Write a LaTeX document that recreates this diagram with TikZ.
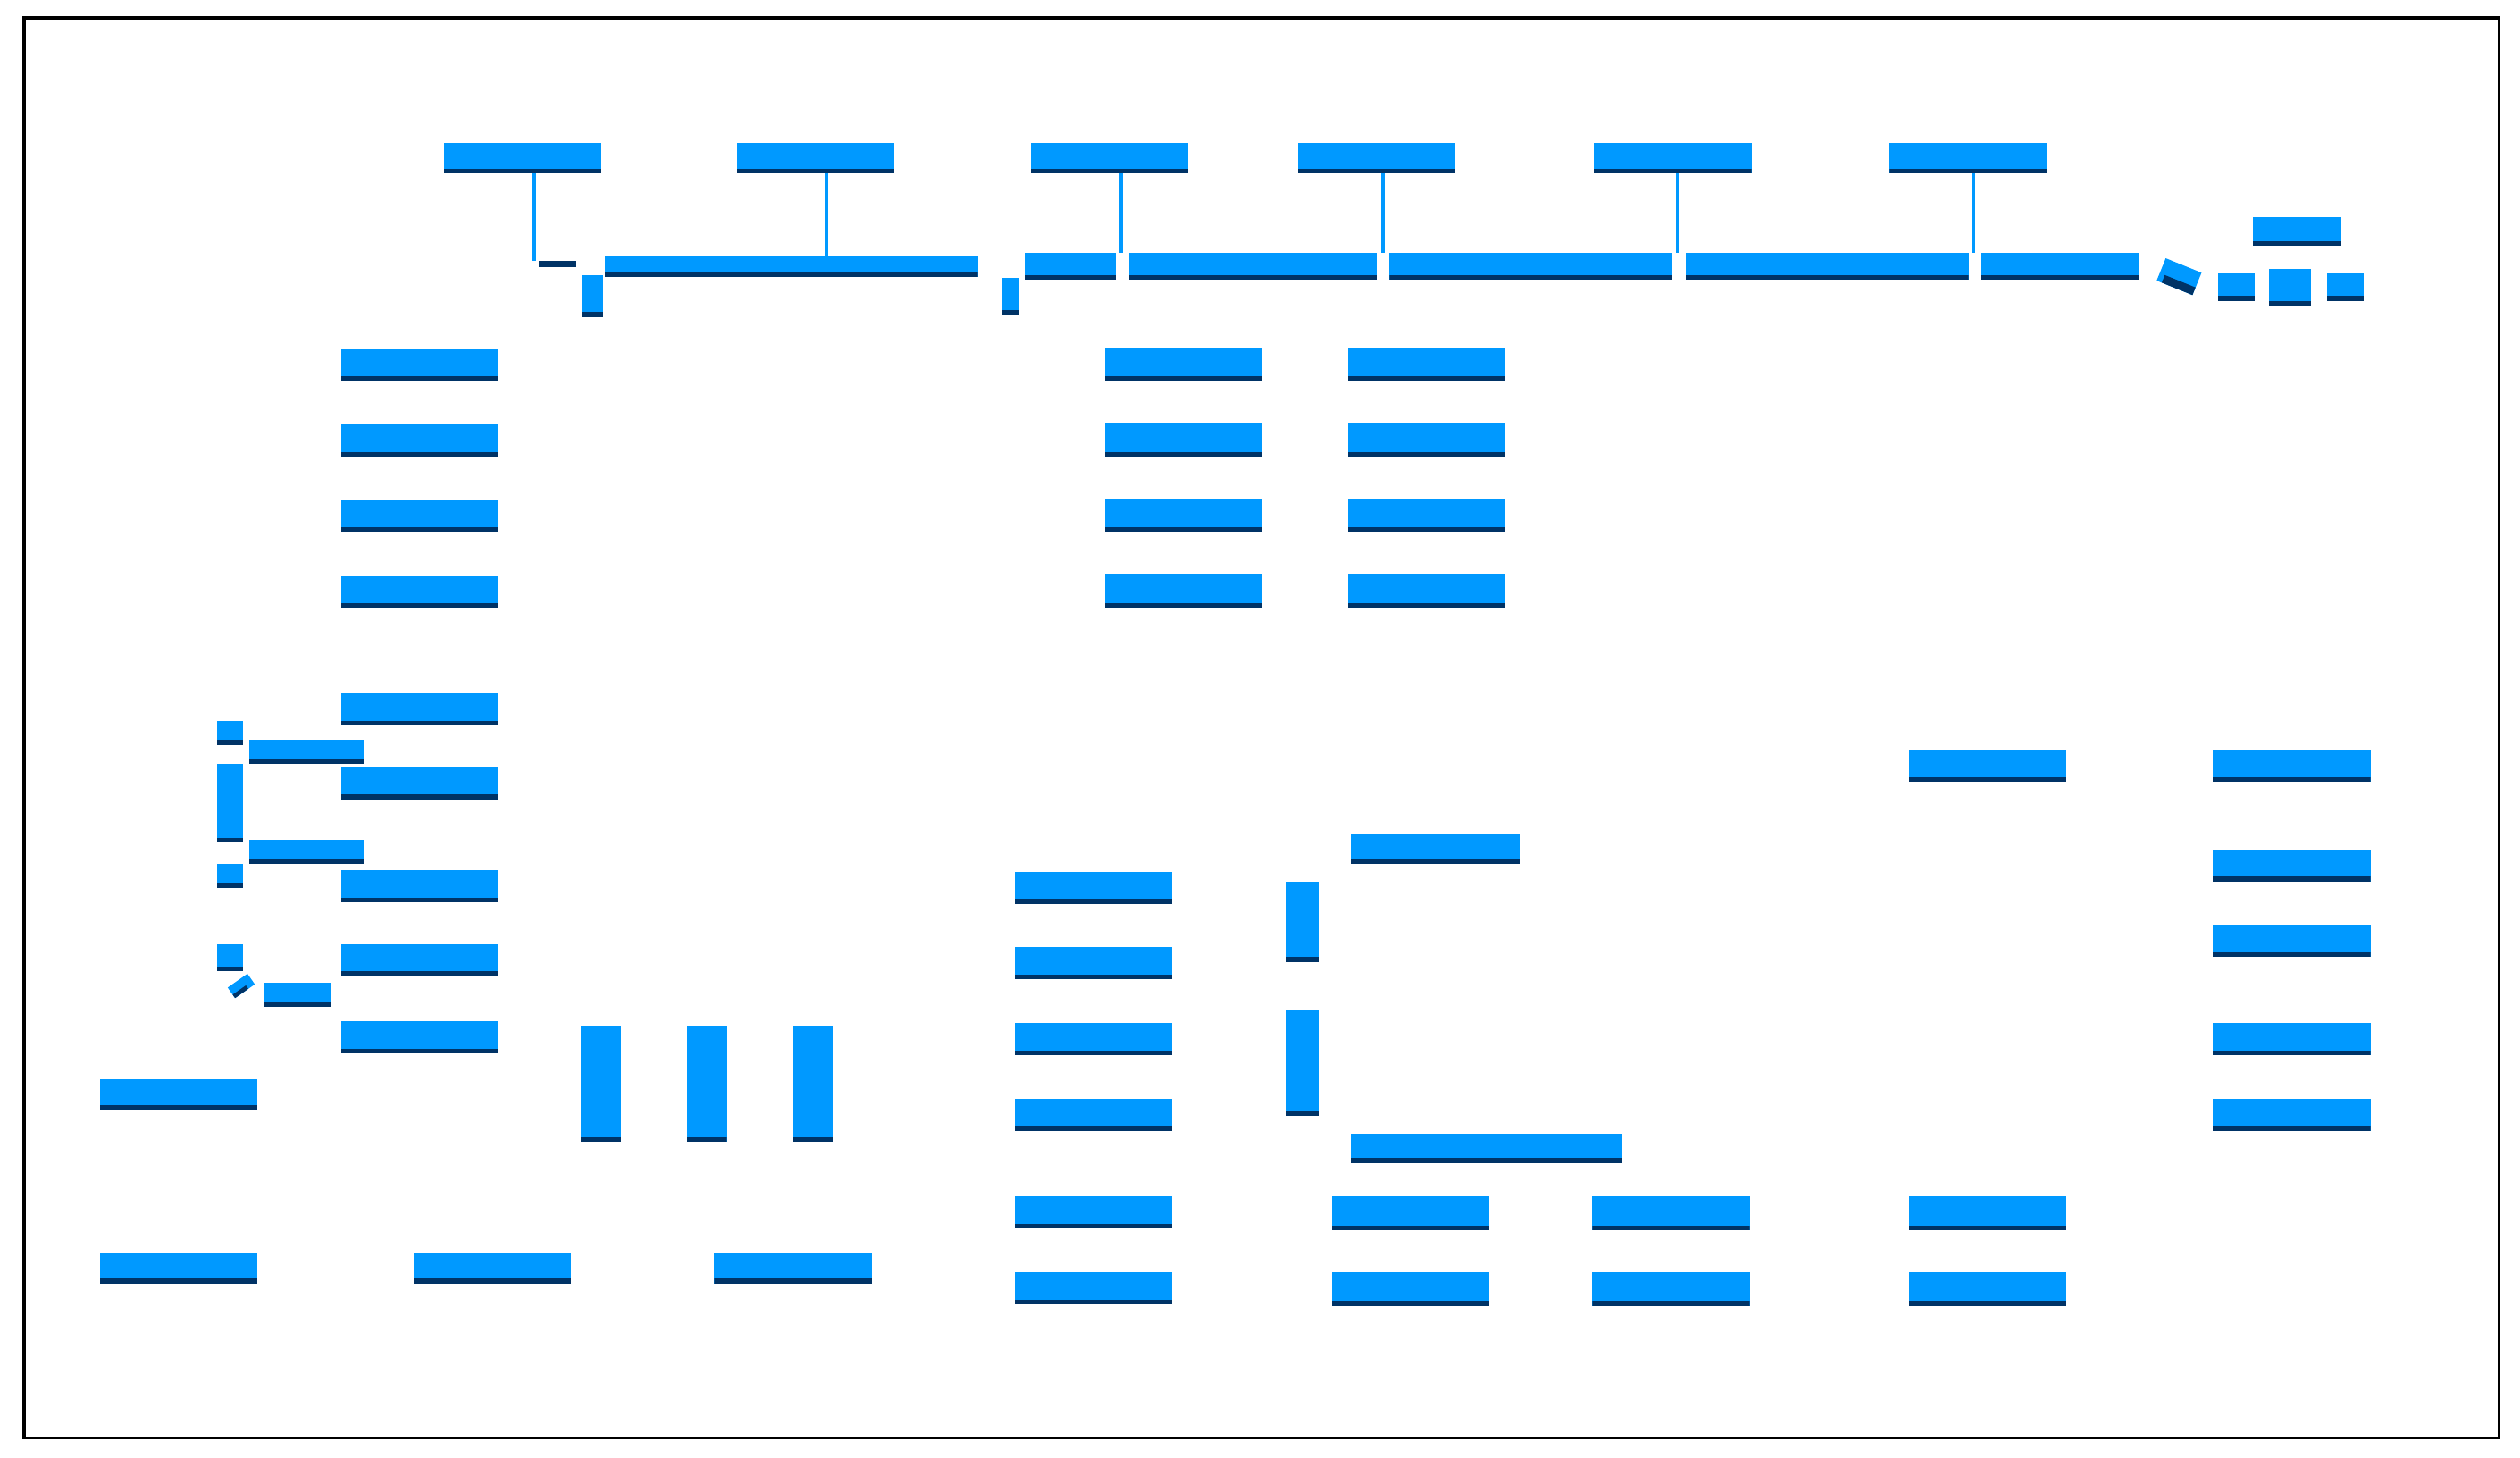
\documentclass[tikz,border=0pt]{standalone}
\usepackage{amsmath}
\usepackage{xcolor}
\definecolor{barblue}{HTML}{0099FF}
\definecolor{barnavy}{HTML}{003366}

\begin{document}
\begin{tikzpicture}[x=0.01cm,y=-0.01cm,
	bar/.style 2 args={anchor=north west,inner sep=0pt,outer sep=0pt,fill=barblue,
		minimum width=#1*0.01cm,minimum height=#2*0.01cm,
		path picture={\fill[barnavy] (path picture bounding box.south west)
			rectangle ([yshift=0.03cm]path picture bounding box.south east);}},
	stem/.style={draw=barblue,line width=0.02cm}]
	\useasboundingbox (0,0) rectangle (1567,906);
	% frame
	\draw[line width=0.02cm] (15,11) rectangle (1554,894);
	% top row
	\foreach \x [count=\i] in {276,458,641,807,991,1175}
	\node[bar={98}{19}] (t\i) at (\x,89) {};
	% bus
	\node[bar={23}{4},fill=barnavy] (dash) at (335,162) {};
	\node[bar={13}{26}] (drop1) at (362,171) {};
	\node[bar={232}{13}] (bus1) at (376,159) {};
	\node[bar={11}{23}] (drop2) at (623,173) {};
	\node[bar={57}{17}] (bus2) at (637,157) {};
	\node[bar={154}{17}] (bus3) at (702,157) {};
	\node[bar={176}{17}] (bus4) at (864,157) {};
	\node[bar={176}{17}] (bus5) at (1048,157) {};
	\node[bar={98}{17}] (bus6) at (1232,157) {};
	\draw[stem] ([xshift=0.07cm]t1.south) -- ([xshift=0.07cm]t1.south |- dash.north);
	\draw[stem] ([xshift=0.07cm]t2.south) -- ([xshift=0.07cm]t2.south |- bus1.north);
	\draw[stem] ([xshift=0.07cm]t3.south) -- ([xshift=0.07cm]t3.south |- bus3.north);
	\draw[stem] ([xshift=0.04cm]t4.south) -- ([xshift=0.04cm]t4.south |- bus4.north);
	\draw[stem] ([xshift=0.03cm]t5.south) -- ([xshift=0.03cm]t5.south |- bus5.north);
	\draw[stem] ([xshift=0.03cm]t6.south) -- ([xshift=0.03cm]t6.south |- bus6.north);
	% tail
	\node[bar={24}{15},anchor=center,rotate=-22] (tilt1) at (1355,172) {};
	\node[bar={23}{17}] (s1) at (1379,170) {};
	\node[bar={26}{23}] (s2) at (1411,167) {};
	\node[bar={23}{17}] (s3) at (1447,170) {};
	\node[bar={55}{18}] (cap) at (1401,135) {};
	% left column
	\foreach \y [count=\i] in {217,264,311,358,431,477,541,587,635}
	\node[bar={98}{20}] (l\i) at (212,\y) {};
	\node[bar={16}{15}] (q1) at (135,448) {};
	\node[bar={71}{15}] (h1) at (155,460) {};
	\node[bar={16}{49}] (v1) at (135,475) {};
	\node[bar={71}{15}] (h2) at (155,522) {};
	\node[bar={16}{15}] (q2) at (135,537) {};
	\node[bar={16}{17}] (q3) at (135,587) {};
	\node[bar={15}{8},anchor=center,rotate=35] (tilt2) at (150,613) {};
	\node[bar={42}{15}] (h3) at (164,611) {};
	% bottom left
	\node[bar={98}{19}] (a1) at (62,671) {};
	\foreach \x [count=\i] in {62,257,444}
	\node[bar={98}{19}] (b\i) at (\x,779) {};
	\foreach \x [count=\i] in {361,427,493}
	\node[bar={25}{72}] (p\i) at (\x,638) {};
	% middle
	\foreach \y [count=\i] in {216,263,310,357} {
		\node[bar={98}{21}] (m\i) at (687,\y) {};
		\node[bar={98}{21}] (n\i) at (838,\y) {};
	}
	\foreach \y [count=\i] in {542,589,636,683,744,791}
	\node[bar={98}{20}] (c\i) at (631,\y) {};
	\node[bar={20}{50}] (v2) at (800,548) {};
	\node[bar={20}{66}] (v3) at (800,628) {};
	\node[bar={105}{19}] (g1) at (840,518) {};
	\node[bar={169}{18}] (g2) at (840,705) {};
	\foreach \x [count=\i] in {828,990,1187} {
		\node[bar={98}{21}] (d\i) at (\x,744) {};
		\node[bar={98}{21}] (e\i) at (\x,791) {};
	}
	% right
	\node[bar={98}{20}] (r0) at (1187,466) {};
	\foreach \y [count=\i] in {466,528,575,636,683}
	\node[bar={98}{20}] (r\i) at (1376,\y) {};
\end{tikzpicture}
\end{document}
